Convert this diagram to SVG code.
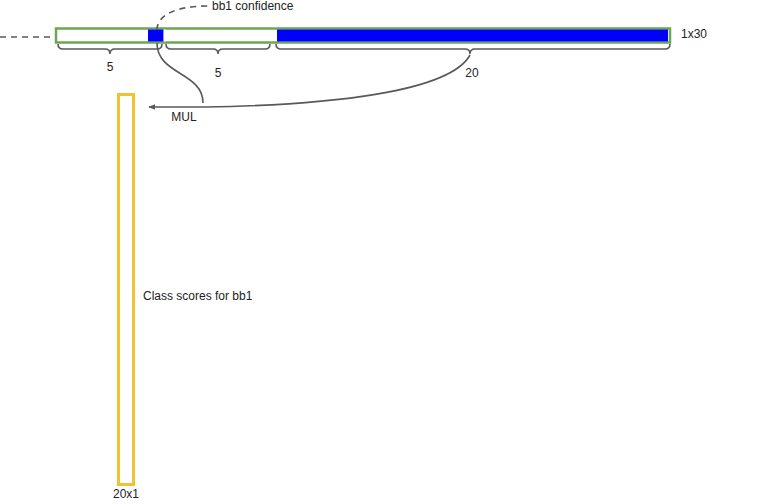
<svg xmlns="http://www.w3.org/2000/svg" width="781" height="504" viewBox="0 0 781 504">
<style>
text{font-family:"Liberation Sans",Arial,sans-serif;font-size:12px;fill:#222}
.c{fill:none;stroke:#595959;stroke-width:1.6}
.d{fill:none;stroke:#595959;stroke-width:1.6;stroke-dasharray:6,5}
</style>
<defs>
<marker id="ah" viewBox="0 0 10 10" refX="9" refY="5" markerWidth="7" markerHeight="7" orient="auto-start-reverse" markerUnits="userSpaceOnUse">
<path d="M0,1 L10,5 L0,9 z" fill="#595959"/>
</marker>
</defs>
<rect width="781" height="504" fill="#fff"/>
<g id="vector">
<rect x="56" y="28.5" width="614" height="14" fill="#fff" stroke="#6aa84f" stroke-width="2.5"/>
<rect x="148" y="29.5" width="15.5" height="12" fill="#0000ff"/>
<rect x="277" y="29.5" width="391" height="12" fill="#0000ff"/>
<line x1="164.8" y1="29.5" x2="164.8" y2="41.5" stroke="#fff" stroke-width="2"/>
<text x="681" y="38">1x30</text>
</g>
<g id="scores">
<rect x="118.5" y="94.5" width="15" height="390" fill="#fff" stroke="#f1c232" stroke-width="3"/>
<text x="143" y="300">Class scores for bb1</text>
<text x="126" y="498" text-anchor="middle">20x1</text>
</g>
<g id="labels">
<text x="110" y="71" text-anchor="middle">5</text>
<text x="218" y="77" text-anchor="middle">5</text>
<text x="472" y="77" text-anchor="middle">20</text>
<text x="212" y="10">bb1 confidence</text>
<text x="184" y="121" text-anchor="middle">MUL</text>
</g>
<g id="connectors">
<line class="d" x1="0" y1="37" x2="52" y2="37"/>
<path class="d" d="M157,30 C157,15 176,6 208,6"/>
<path class="c" d="M58,44 Q58,49 63,49 L105,49 Q110,49 110,54 Q110,49 115,49 L157,49 Q162,49 162,44"/>
<path class="c" d="M166,44 Q166,49 171,49 L213,49 Q218,49 218,54 Q218,49 223,49 L265,49 Q270,49 270,44"/>
<path class="c" d="M276,44 Q276,49 281,49 L465,49 Q470,49 470,54 Q470,49 475,49 L665,49 Q670,49 670,44"/>
<path class="c" d="M157,43 C157,75 203,72 203,103"/>
<path class="c" d="M470,55 C450,92 330,105 205,107"/>
<line class="c" x1="205" y1="107" x2="149" y2="107" marker-end="url(#ah)"/>
</g>
</svg>
